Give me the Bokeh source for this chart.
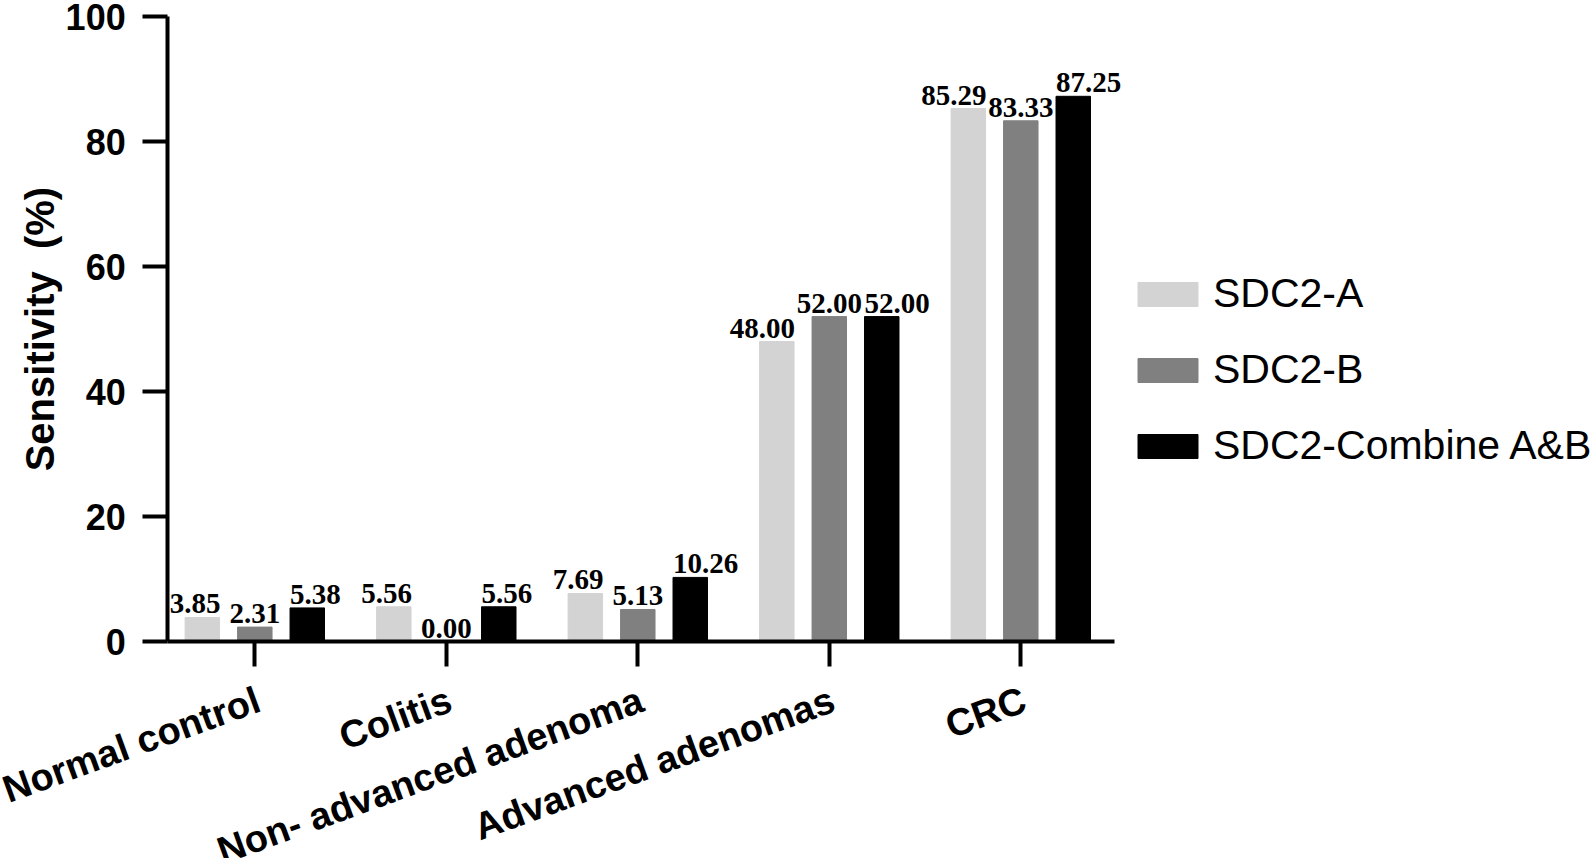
import numpy as np
from bokeh.plotting import figure
from bokeh.models import Range1d, FixedTicker, Legend, LegendItem, ColumnDataSource, LabelSet, Label
from bokeh.core.properties import value
from bokeh.embed import file_html
from bokeh.resources import INLINE

categories = ["Normal control", "Colitis", "Non- advanced adenoma", "Advanced adenomas", "CRC"]
series_names = ["SDC2-A", "SDC2-B", "SDC2-Combine A&B"]
sdc2_a = [3.85, 5.56, 7.69, 48.00, 85.29]
sdc2_b = [2.31, 0.00, 5.13, 52.00, 83.33]
sdc2_ab = [5.38, 5.56, 10.26, 52.00, 87.25]
colors = ["#d3d3d3", "#808080", "#000000"]
y_ticks = [0, 20, 40, 60, 80, 100]
y_label = "Sensitivity\u00a0\u00a0(%)"

series = [sdc2_a, sdc2_b, sdc2_ab]
offsets = [-0.274, 0.0, 0.274]
bar_w = 0.18
# x: axis starts at x0, category spacing 1 unit
x0, x_axis_end = -0.455, 4.491
x_start, x_end = -1.328, 6.996
y_start, y_end = -34.72, 102.1

SANS = value("Liberation Sans")
SERIF = value("Liberation Serif")

p = figure(width=1594, height=858, output_backend="svg", toolbar_location=None,
           x_axis_location="above", y_axis_location="right",
           x_range=Range1d(x_start, x_end), y_range=Range1d(y_start, y_end),
           min_border_left=0, min_border_right=0, min_border_top=3, min_border_bottom=0)
p.outline_line_color = None
p.xgrid.visible = False
p.ygrid.visible = False
p.background_fill_color = "white"
p.border_fill_color = "white"

idx = np.arange(len(categories))
renderers = []
aligns = ["right", "center", "left"]
for i, (vals, col) in enumerate(zip(series, colors)):
    src = ColumnDataSource(dict(x=idx + offsets[i], top=vals))
    r = p.vbar(x="x", top="top", width=bar_w, bottom=0, source=src,
               fill_color=col, line_color=col, line_width=1)
    renderers.append(r)
    lx = idx + offsets[i] + [bar_w / 2, 0, -bar_w / 2][i]
    lsrc = ColumnDataSource(dict(x=lx, y=vals, lab=["%.2f" % v for v in vals]))
    p.add_layout(LabelSet(x="x", y="y", text="lab", source=lsrc, text_align=aligns[i],
                          text_baseline="alphabetic", x_offset=[1, 0, 0][i], y_offset=4,
                          text_font=SERIF, text_font_style="bold",
                          text_font_size="29px", text_color="black"))

# x axis: fixed at y = 0, ticks pointing down
xa = p.xaxis[0]
xa.fixed_location = 0
xa.bounds = (x0, x_axis_end)
xa.ticker = FixedTicker(ticks=list(idx))
xa.major_label_overrides = {int(i): "" for i in idx}
xa.major_label_text_font_size = "1px"
xa.major_label_standoff = 0
xa.axis_line_width = 4
xa.axis_line_color = "black"
xa.major_tick_line_width = 4
xa.major_tick_out = 0
xa.major_tick_in = 25
xa.minor_tick_line_color = None

csrc = ColumnDataSource(dict(x=idx, y=[0] * len(categories), lab=categories))
p.add_layout(LabelSet(x="x", y="y", text="lab", source=csrc, text_align="right",
                      text_baseline="alphabetic", x_offset=8, y_offset=-69,
                      angle=20, angle_units="deg",
                      text_font=SANS, text_font_style="bold",
                      text_font_size="38px", text_color="black"))

# y axis: fixed at x = x0, ticks pointing left
ya = p.yaxis[0]
ya.fixed_location = x0
ya.bounds = (0, 100)
ya.ticker = FixedTicker(ticks=y_ticks)
ya.major_label_overrides = {t: "" for t in y_ticks}
ya.major_label_text_font_size = "1px"
ya.major_label_standoff = 0
ya.axis_line_width = 4
ya.axis_line_color = "black"
ya.major_tick_line_width = 4
ya.major_tick_out = 0
ya.major_tick_in = 25
ya.minor_tick_line_color = None

ysrc = ColumnDataSource(dict(x=[x0] * len(y_ticks), y=y_ticks, lab=[str(t) for t in y_ticks]))
p.add_layout(LabelSet(x="x", y="y", text="lab", source=ysrc, text_align="right",
                      text_baseline="middle", x_offset=-42, y_offset=0,
                      text_font=SANS, text_font_style="bold",
                      text_font_size="36px", text_color="black"))
p.add_layout(Label(x=x0, y=50, text=y_label, x_offset=-128, y_offset=0,
                   angle=90, angle_units="deg", text_align="center", text_baseline="middle",
                   text_font="Liberation Sans", text_font_style="bold",
                   text_font_size="40px", text_color="black"))

items = [LegendItem(label=n, renderers=[r]) for n, r in zip(series_names, renderers)]
legend = Legend(items=items, location=(1130, 389), glyph_width=75, glyph_height=30,
                label_text_font="Liberation Sans", label_text_font_size="41px",
                label_text_color="black",
                label_standoff=8, spacing=29, padding=0, margin=0,
                label_height=46, border_line_color=None, background_fill_alpha=0)
p.add_layout(legend, "center")

open("out.html", "w").write(file_html(p, INLINE))
